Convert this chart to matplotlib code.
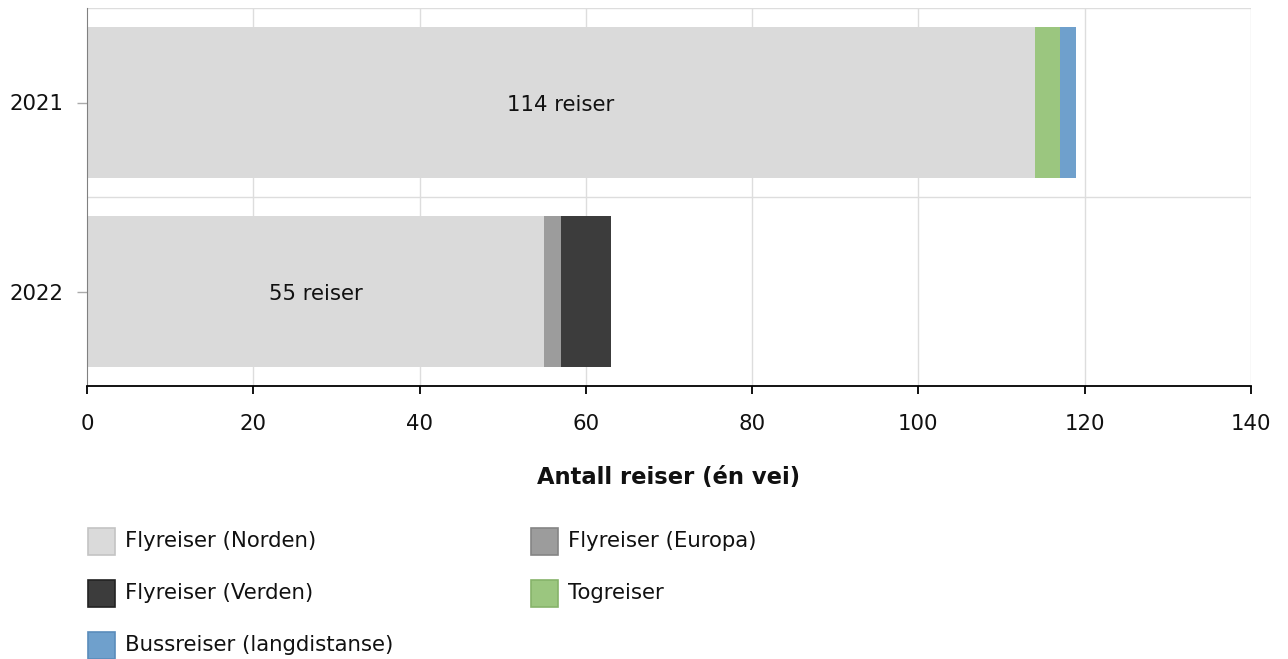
import numpy as np
import matplotlib.pyplot as plt
from matplotlib.patches import Rectangle

# Data
years = ['2021', '2022']
series = ['Flyreiser (Norden)', 'Flyreiser (Europa)', 'Flyreiser (Verden)',
          'Togreiser', 'Bussreiser (langdistanse)']
norden = [114, 55]
europa = [0, 2]
verden = [0, 6]
tog = [3, 0]
buss = [2, 0]
values = [norden, europa, verden, tog, buss]
colors = ['#dadada', '#9c9c9c', '#3c3c3c', '#9bc67f', '#6fa0cc']
edges = ['#c4c4c4', '#858585', '#222222', '#86b36a', '#5a8cbb']

plt.rcParams['font.family'] = ['DejaVu Sans']
txt = '#111111'
fs = 15.3

fig = plt.figure(figsize=(12.88, 6.59), dpi=100)
ax = fig.add_axes([87 / 1288, 1 - 386 / 659, (1251 - 87) / 1288, (386 - 8) / 659])

y = np.arange(len(years))
left = np.zeros(len(years))
for vals, col in zip(values, colors):
    ax.barh(y, vals, left=left, height=0.8, color=col, linewidth=0, zorder=2)
    left += np.array(vals)

# labels on the first segment
for yi, v in zip(y, norden):
    ax.text(v / 2, yi + 0.015, f'{v} reiser', ha='center', va='center',
            fontsize=fs, color=txt, zorder=3)

ax.set_xlim(0, 140)
ax.set_ylim(1.5, -0.5)
ax.set_xticks(np.arange(0, 141, 20))
ax.set_yticks(y)
ax.set_yticklabels(years)

# grid
for gx in np.arange(20, 141, 20):
    ax.axvline(gx, color='#dddddd', lw=1, zorder=1)
for gy in [-0.5, 0.5]:
    ax.axhline(gy, color='#dddddd', lw=1, zorder=1)

for s in ['top', 'right']:
    ax.spines[s].set_visible(False)
ax.spines['left'].set_color('#808080')
ax.spines['bottom'].set_color('black')
ax.spines['bottom'].set_linewidth(1.3)
ax.tick_params(axis='x', length=6, width=1.3, color='black', labelsize=fs,
               labelcolor=txt, pad=14)
ax.tick_params(axis='y', length=7, width=1, color='#aaaaaa', labelsize=fs,
               labelcolor=txt, pad=10)
ax.set_xlabel('Antall reiser (én vei)', fontsize=16.3, fontweight='bold',
              color=txt, labelpad=23)

# legend, two columns
for i, (name, col, ec) in enumerate(zip(series, colors, edges)):
    cx = 88 + (i % 2) * 443
    cy = 541 + (i // 2) * 52
    fig.patches.append(Rectangle((cx / 1288, 1 - (cy + 14) / 659), 27 / 1288, 27 / 659,
                                 transform=fig.transFigure, facecolor=col,
                                 edgecolor=ec, lw=1.2))
    fig.text((cx + 37) / 1288, 1 - cy / 659, name, fontsize=fs, color=txt,
             va='center', ha='left')

fig.savefig('out.png', dpi=100)
